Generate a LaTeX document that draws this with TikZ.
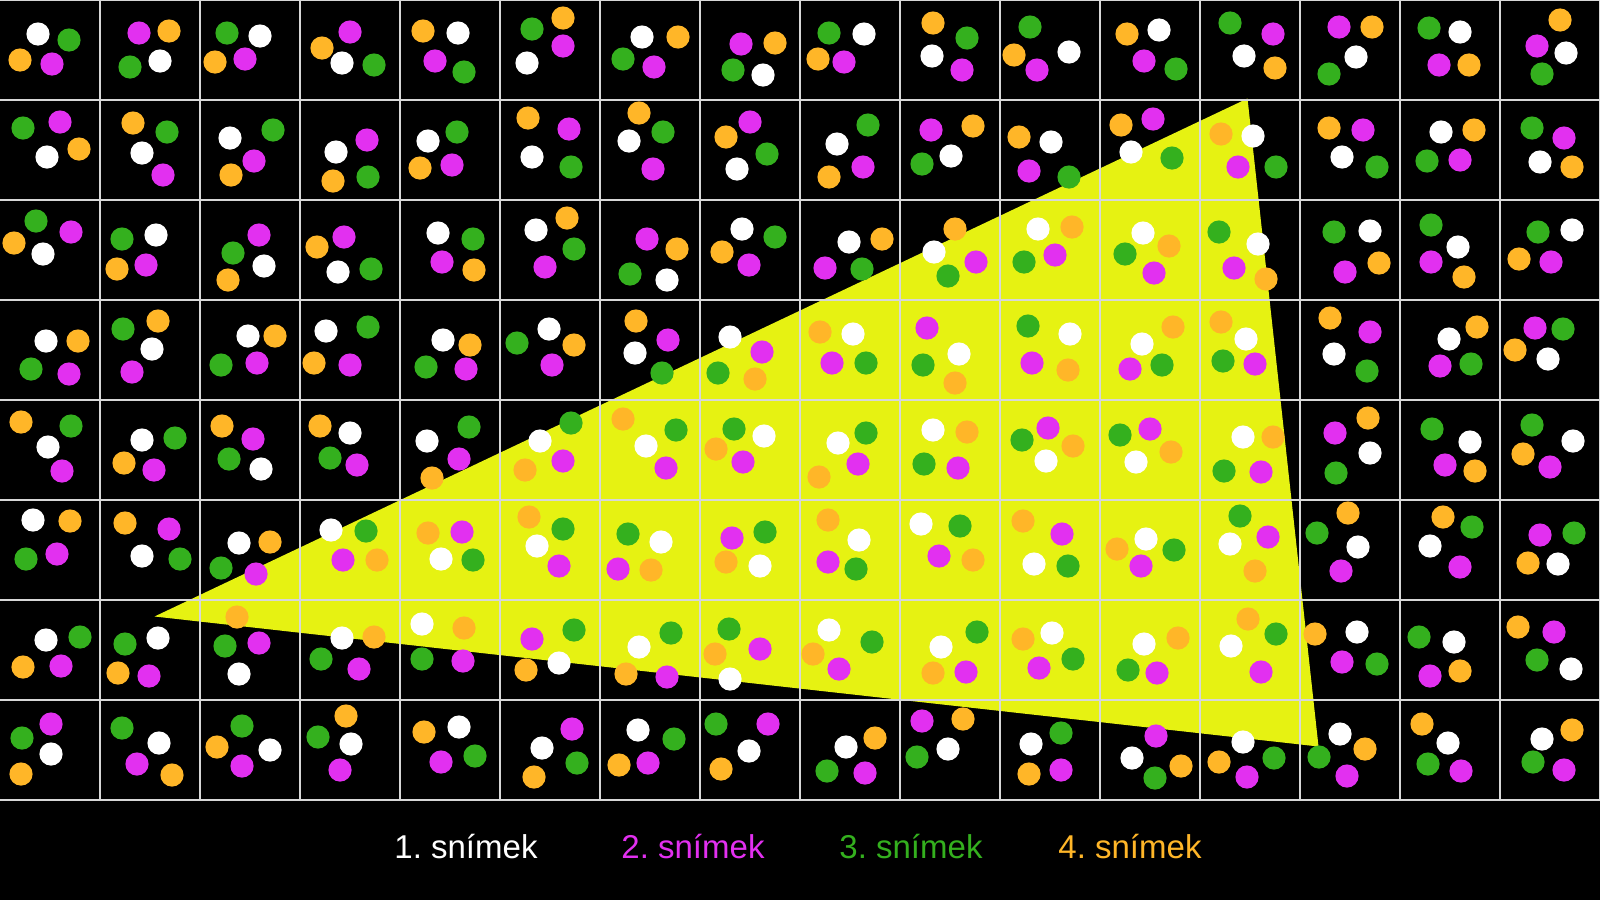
\documentclass[tikz,border=0pt]{standalone}
\usepackage{fontspec}
\setmainfont{Liberation Sans}
\frenchspacing
\definecolor{cW}{RGB}{255,255,255}
\definecolor{cM}{RGB}{226,48,240}
\definecolor{cG}{RGB}{52,176,30}
\definecolor{cO}{RGB}{255,182,40}
\definecolor{cY}{RGB}{230,242,18}
\definecolor{cGrid}{RGB}{215,215,215}
\tikzset{
  dotW/.style={fill=cW},
  dotM/.style={fill=cM},
  dotG/.style={fill=cG},
  dotO/.style={fill=cO},
  gridline/.style={draw=cGrid,line width=1.3pt},
  legend/.style={anchor=base,inner sep=0pt,font=\fontsize{33}{40}\selectfont}
}
\begin{document}
\begin{tikzpicture}[x=1pt,y=-1pt]
\useasboundingbox (0,0) rectangle (1600,900);
\fill[black] (0,0) rectangle (1600,900);
% yellow triangle
\coordinate (ta) at (154.5,616.5);
\coordinate (tb) at (1247.5,98.5);
\coordinate (tc) at (1318.5,746.5);
\fill[cY] (ta) -- (tb) -- (tc) -- cycle;
% grid
\foreach \i in {1,...,16} { \draw[gridline] (\i*100,0) -- (\i*100,800); }
\foreach \j in {0,...,8} { \draw[gridline] (0,\j*100) -- (1600,\j*100); }
% dots: col/row/W/M/G/O
\foreach \c/\r/\wx/\wy/\mx/\my/\gx/\gy/\ox/\oy in {
0/0/38/34/52/64/69/40/20/60,
1/0/60/61/39/33/30/67/69/31,
2/0/60/36/45/59/27/33/15/62,
3/0/42/63/50/32/74/65/22/48,
4/0/58/33/35/61/64/72/23/31,
5/0/27/63/63/46/32/29/63/18,
6/0/42/37/54/67/23/59/78/37,
7/0/63/75/41/44/33/70/75/43,
8/0/64/34/44/62/29/33/18/59,
9/0/32/56/62/70/67/38/33/23,
10/0/69/52/37/70/30/27/14/55,
11/0/59/30/44/61/76/69/27/34,
12/0/44/56/73/34/30/23/75/68,
13/0/56/57/39/27/29/74/72/27,
14/0/60/32/39/65/29/28/69/65,
15/0/66/53/37/46/42/74/60/20,
0/1/47/57/60/22/23/28/79/49,
1/1/42/53/63/75/67/32/33/23,
2/1/30/38/54/61/73/30/31/75,
3/1/36/52/67/40/68/77/33/81,
4/1/28/41/52/65/57/32/20/68,
5/1/32/57/69/29/71/67/28/18,
6/1/29/41/53/69/63/32/39/13,
7/1/37/69/50/22/67/54/26/37,
8/1/37/44/63/67/68/25/29/77,
9/1/51/56/31/30/22/64/73/26,
10/1/51/42/29/71/69/77/19/37,
11/1/31/52/53/19/72/58/21/25,
12/1/53/36/38/67/76/67/21/34,
13/1/42/57/63/30/77/67/29/28,
14/1/41/32/60/60/27/61/74/30,
15/1/40/62/64/38/32/28/72/67,
0/2/43/54/71/32/36/21/14/43,
1/2/56/35/46/65/22/39/17/69,
2/2/64/66/59/35/33/53/28/80,
3/2/38/72/44/37/71/69/17/47,
4/2/38/33/42/62/73/39/74/70,
5/2/36/30/45/67/74/49/67/18,
6/2/67/80/47/39/30/74/77/49,
7/2/42/29/49/65/75/37/22/52,
8/2/49/42/25/68/62/69/82/39,
9/2/34/52/76/62/48/76/55/29,
10/2/38/29/55/55/24/62/72/27,
11/2/43/33/54/73/25/54/69/46,
12/2/58/44/34/68/19/32/66/79,
13/2/70/31/45/72/34/32/79/63,
14/2/58/47/31/62/31/25/64/77,
15/2/72/30/51/62/38/32/19/59,
0/3/46/41/69/74/31/69/78/41,
1/3/52/49/32/72/23/29/58/21,
2/3/48/36/57/63/21/65/75/36,
3/3/26/31/50/65/68/27/14/63,
4/3/43/40/66/69/26/67/70/45,
5/3/49/29/52/65/17/43/74/45,
6/3/35/53/68/40/62/73/36/21,
7/3/30/37/62/52/18/73/55/79,
8/3/53/34/32/63/66/63/20/32,
9/3/59/54/27/28/23/65/55/83,
10/3/70/34/32/63/28/26/68/70,
11/3/42/44/30/69/62/65/73/27,
12/3/46/39/55/64/23/61/21/22,
13/3/34/54/70/32/67/71/30/18,
14/3/49/39/40/66/71/64/77/27,
15/3/48/59/35/28/63/29/15/50,
0/4/48/47/62/71/71/26/21/22,
1/4/42/40/54/70/75/38/24/63,
2/4/61/69/53/39/29/59/22/26,
3/4/50/33/57/65/30/58/20/26,
4/4/27/41/59/59/69/27/32/78,
5/4/40/41/63/61/71/23/25/70,
6/4/46/46/66/68/76/30/23/19,
7/4/64/36/43/62/34/29/16/49,
8/4/38/43/58/64/66/33/19/77,
9/4/33/30/58/68/24/64/67/32,
10/4/46/61/48/28/22/40/73/46,
11/4/36/62/50/29/20/35/71/52,
12/4/43/37/61/72/24/71/73/37,
13/4/70/53/35/33/36/73/68/18,
14/4/70/42/45/65/32/29/75/71,
15/4/73/41/50/67/32/25/23/54,
0/5/33/20/57/54/26/59/70/21,
1/5/42/56/69/29/80/59/25/23,
2/5/39/43/56/74/21/68/70/42,
3/5/31/30/43/60/66/31/77/60,
4/5/41/59/62/32/73/60/28/33,
5/5/37/46/59/66/63/29/29/17,
6/5/61/42/18/69/28/34/51/70,
7/5/60/66/32/38/65/32/26/62,
8/5/59/40/28/62/56/69/28/20,
9/5/21/24/39/56/60/26/73/60,
10/5/34/64/62/34/68/66/23/21,
11/5/46/39/41/66/74/50/17/49,
12/5/30/44/68/37/40/16/55/71,
13/5/58/47/41/71/17/33/48/13,
14/5/30/46/60/67/72/27/43/17,
15/5/58/64/40/35/74/33/28/63,
0/6/46/40/61/66/80/37/23/67,
1/6/58/38/49/76/25/44/18/73,
2/6/39/74/59/43/25/46/37/17,
3/6/42/38/59/69/21/59/74/37,
4/6/22/24/63/61/22/59/64/28,
5/6/59/63/32/39/74/30/26/70,
6/6/39/47/67/77/71/33/26/74,
7/6/30/79/60/49/29/29/15/54,
8/6/29/30/39/69/72/42/13/54,
9/6/41/47/66/72/77/32/33/73,
10/6/52/33/39/68/73/59/23/39,
11/6/44/44/57/73/28/70/78/38,
12/6/31/46/61/72/76/34/48/19,
13/6/57/32/42/62/77/64/15/34,
14/6/54/42/30/76/19/37/60/71,
15/6/71/69/54/32/37/60/18/27,
0/7/51/54/51/24/22/38/21/74,
1/7/59/43/37/64/22/28/72/75,
2/7/70/50/42/66/42/26/17/47,
3/7/51/44/40/70/18/37/46/16,
4/7/59/27/41/62/75/56/24/32,
5/7/42/48/72/29/77/63/34/77,
6/7/38/30/48/63/74/39/19/65,
7/7/49/51/68/24/16/24/21/69,
8/7/46/47/65/73/27/71/75/38,
9/7/48/49/22/21/17/57/63/19,
10/7/31/44/61/70/61/33/29/74,
11/7/32/58/56/36/55/78/81/66,
12/7/43/42/47/77/74/58/19/62,
13/7/40/34/47/76/19/57/65/49,
14/7/48/43/61/71/28/64/22/24,
15/7/42/39/64/70/33/62/72/30}
{
  \fill[dotW] (\c*100+\wx,\r*100+\wy) circle[radius=11.6pt];
  \fill[dotM] (\c*100+\mx,\r*100+\my) circle[radius=11.6pt];
  \fill[dotG] (\c*100+\gx,\r*100+\gy) circle[radius=11.6pt];
  \fill[dotO] (\c*100+\ox,\r*100+\oy) circle[radius=11.6pt];
}
% legend
\node[legend,text=cW] (l1) at (466,858) {1. snímek};
\node[legend,text=cM] (l2) at (693,858) {2. snímek};
\node[legend,text=cG] (l3) at (911,858) {3. snímek};
\node[legend,text=cO] (l4) at (1130,858) {4. snímek};
\end{tikzpicture}
\end{document}
